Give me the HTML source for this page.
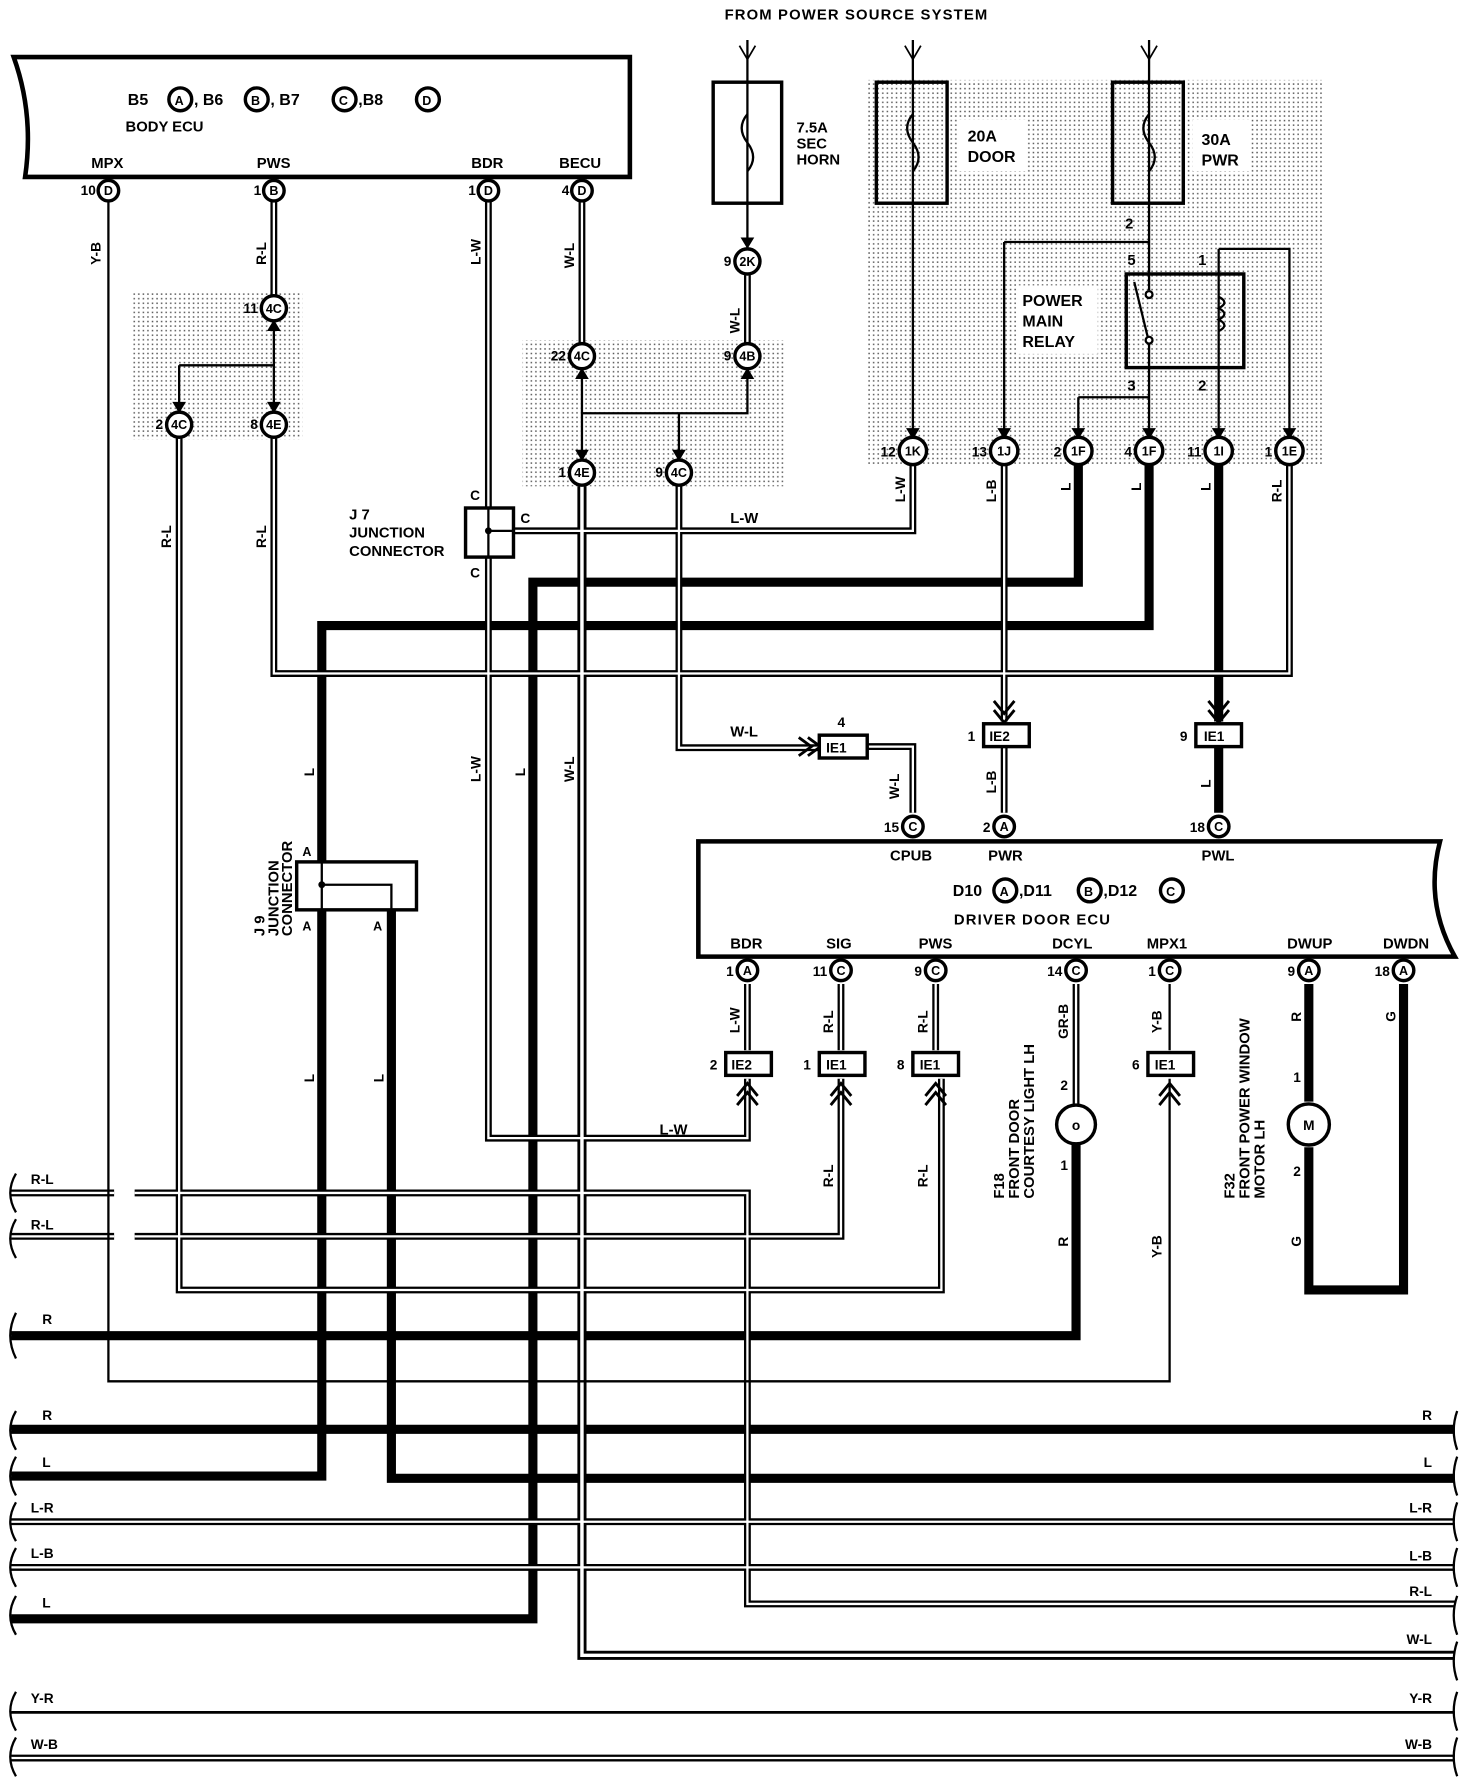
<!DOCTYPE html>
<html><head><meta charset="utf-8"><style>
html,body{margin:0;padding:0;background:#fff}
svg{display:block}
text{font-family:"Liberation Sans",sans-serif;font-weight:bold;fill:#000}
</style></head><body>
<svg width="1472" height="1790" viewBox="0 0 1290 1568" preserveAspectRatio="none" xmlns="http://www.w3.org/2000/svg">
<defs>
<pattern id="dots" width="4" height="4" patternUnits="userSpaceOnUse"><rect x="1" y="1" width="1.3" height="1.3" fill="#555"/></pattern>
</defs>
<rect width="1290" height="1568" fill="#fff"/>
<rect x="760" y="70" width="400" height="338" fill="url(#dots)"/>
<rect x="115" y="255" width="150" height="130" fill="url(#dots)"/>
<rect x="458" y="298" width="230" height="128" fill="url(#dots)"/>
<rect x="840" y="105" width="60" height="45" fill="#fff"/>
<rect x="1045" y="105" width="50" height="45" fill="#fff"/>
<rect x="892" y="250" width="70" height="60" fill="#fff"/>

<text x="635" y="17" font-size="13" letter-spacing="1">FROM POWER SOURCE SYSTEM</text>

<path d="M12,50 H552 V155 H22 Q30,100 12,50 Z" fill="none" stroke="#000" stroke-width="4"/>
<text x="112" y="92" font-size="14">B5</text><circle cx="158" cy="87" r="10" fill="#fff" stroke="#000" stroke-width="3"/><text x="153" y="92" font-size="11">A</text>
<text x="170" y="92" font-size="14">, B6</text><circle cx="225" cy="87" r="10" fill="#fff" stroke="#000" stroke-width="3"/><text x="220" y="92" font-size="11">B</text>
<text x="237" y="92" font-size="14">, B7</text><circle cx="302" cy="87" r="10" fill="#fff" stroke="#000" stroke-width="3"/><text x="297" y="92" font-size="11">C</text>
<text x="314" y="92" font-size="14">,B8</text><circle cx="375" cy="87" r="10" fill="#fff" stroke="#000" stroke-width="3"/><text x="370" y="92" font-size="11">D</text>
<text x="110" y="115" font-size="13">BODY ECU</text>
<text x="80" y="147" font-size="13">MPX</text><text x="225" y="147" font-size="13">PWS</text><text x="413" y="147" font-size="13">BDR</text><text x="490" y="147" font-size="13">BECU</text>

<path d="M612,737 H1262 Q1248,790 1275,838 H612 Z" fill="none" stroke="#000" stroke-width="4"/>
<text x="780" y="754" font-size="13">CPUB</text><text x="866" y="754" font-size="13">PWR</text><text x="1053" y="754" font-size="13">PWL</text>
<text x="835" y="785" font-size="14">D10</text><circle cx="881" cy="780" r="10" fill="#fff" stroke="#000" stroke-width="3"/><text x="876" y="785" font-size="11">A</text>
<text x="893" y="785" font-size="14">,D11</text><circle cx="955" cy="780" r="10" fill="#fff" stroke="#000" stroke-width="3"/><text x="950" y="785" font-size="11">B</text>
<text x="967" y="785" font-size="14">,D12</text><circle cx="1027" cy="780" r="10" fill="#fff" stroke="#000" stroke-width="3"/><text x="1022" y="785" font-size="11">C</text>
<text x="836" y="810" font-size="13" letter-spacing="1">DRIVER DOOR ECU</text>
<text x="640" y="831" font-size="13">BDR</text><text x="724" y="831" font-size="13">SIG</text><text x="805" y="831" font-size="13">PWS</text><text x="922" y="831" font-size="13">DCYL</text><text x="1005" y="831" font-size="13">MPX1</text><text x="1128" y="831" font-size="13">DWUP</text><text x="1212" y="831" font-size="13">DWDN</text>

<g fill="none" stroke="#000" stroke-width="8" stroke-linejoin="miter">
<path d="M945,407 V510 H467 V1418 H10"/>
<path d="M1007,407 V548 H282 V1293 H10"/>
<path d="M1068,407 V632 M1068,655 V712"/>
<path d="M343,797 V1295 H1275"/>
<path d="M10,1252 H1275"/>
<path d="M943,1002 V1170 H10"/>
<path d="M1147,862 V965 M1147,1005 V1130 H1230 V862"/>
</g>

<g fill="none" stroke-linejoin="miter">
<g stroke="#000" stroke-width="6">
<path d="M240,177 V258"/><path d="M157,384 V1130 H825 V945"/><path d="M240,384 V590 H1130 V407"/>
<path d="M428,177 V997 H655 V945"/><path d="M428,465 H800 V407"/><path d="M510,177 V300"/><path d="M655,241 V300"/>
<path d="M510,426 V1450 H1275" stroke-width="8"/><path d="M595,426 V655 H720"/><path d="M760,654 H800 V712"/>
<path d="M880,407 V632 M880,655 V712"/>
<path d="M943,862 V968"/>
<path d="M10,1045 H100 M118,1045 H655 V1405 H1275"/><path d="M10,1083 H100 M118,1083 H737 V945"/>
<path d="M655,862 V920 M737,862 V920 M820,862 V920"/>
<path d="M10,1333 H1275 M10,1373 H1275 M10,1540 H1275"/>
</g>
<g stroke="#fff" stroke-width="2">
<path d="M240,177 V258"/><path d="M157,384 V1130 H825 V945"/><path d="M240,384 V590 H1130 V407"/>
<path d="M428,177 V997 H655 V945"/><path d="M428,465 H800 V407"/><path d="M510,177 V300"/><path d="M655,241 V300"/>
<path d="M510,426 V1450 H1275" stroke-width="3"/><path d="M595,426 V655 H720"/><path d="M760,654 H800 V712"/>
<path d="M880,407 V632 M880,655 V712"/>
<path d="M943,862 V968"/>
<path d="M10,1045 H100 M118,1045 H655 V1405 H1275"/><path d="M10,1083 H100 M118,1083 H737 V945"/>
<path d="M655,862 V920 M737,862 V920 M820,862 V920"/>
<path d="M10,1333 H1275 M10,1373 H1275 M10,1540 H1275"/>
</g>
</g>

<g fill="none" stroke="#000" stroke-width="2">
<path d="M95,177 V1210 H1025 V945"/>
<path d="M240,282 V360 M157,320 H240 M157,320 V360"/>
<path d="M510,324 V402 M510,362 H655 V324 M595,362 V402"/>
<path d="M655,35 V217 M800,35 V383 M1007,35 V254"/>
<path d="M880,212 H1007 M880,212 V383 M1068,218 H1130 V383 M1068,218 V383"/>
<path d="M1007,300 V383 M945,348 H1007 M945,348 V383"/>
<path d="M1025,862 V920"/>
<path d="M10,1500 H1275" stroke-width="2.5"/>
</g>

<g fill="none" stroke="#000" stroke-width="1.5">
<path d="M648,40 L655,52 L662,40 M793,40 L800,52 L807,40 M1000,40 L1007,52 L1014,40"/>
</g>

<g fill="none" stroke="#000" stroke-width="3">
<rect x="625" y="72" width="60" height="106"/><rect x="768" y="72" width="62" height="106"/><rect x="975" y="72" width="62" height="106"/>
<rect x="987" y="240" width="103" height="82"/>
</g>
<g fill="none" stroke="#000" stroke-width="2">
<path d="M655,100 Q645,112 655,125 Q665,138 655,150"/>
<path d="M800,100 Q790,112 800,125 Q810,138 800,150"/>
<path d="M1007,100 Q997,112 1007,125 Q1017,138 1007,150"/>
<path d="M994,247 L1006,296"/>
<circle cx="1007" cy="258" r="3" fill="#fff"/><circle cx="1007" cy="298" r="3" fill="#fff"/>
<path d="M1068,260 q10,5 0,10 q10,5 0,10 q10,5 0,10"/>
</g>
<text x="698" y="116" font-size="13">7.5A</text><text x="698" y="130" font-size="13">SEC</text><text x="698" y="144" font-size="13">HORN</text>
<text x="848" y="124" font-size="14">20A</text><text x="848" y="142" font-size="14">DOOR</text>
<text x="1053" y="127" font-size="14">30A</text><text x="1053" y="145" font-size="14">PWR</text>
<text x="896" y="268" font-size="14">POWER</text><text x="896" y="286" font-size="14">MAIN</text><text x="896" y="304" font-size="14">RELAY</text>
<text x="986" y="200" font-size="13">2</text><text x="988" y="232" font-size="13">5</text><text x="1050" y="232" font-size="13">1</text><text x="988" y="342" font-size="13">3</text><text x="1050" y="342" font-size="13">2</text>

<g fill="#000">
<path d="M234,290 L240,280 L246,290 Z"/><path d="M151,352 L157,362 L163,352 Z"/><path d="M234,352 L240,362 L246,352 Z"/>
<path d="M504,332 L510,322 L516,332 Z"/><path d="M649,332 L655,322 L661,332 Z"/><path d="M504,394 L510,404 L516,394 Z"/><path d="M589,394 L595,404 L601,394 Z"/>
<path d="M649,208 L655,218 L661,208 Z"/>
<path d="M794,375 L800,385 L806,375 Z"/><path d="M874,375 L880,385 L886,375 Z"/><path d="M939,375 L945,385 L951,375 Z"/><path d="M1001,375 L1007,385 L1013,375 Z"/><path d="M1062,375 L1068,385 L1074,375 Z"/><path d="M1124,375 L1130,385 L1136,375 Z"/>
</g>
<g fill="none" stroke="#000" stroke-width="2.5">
<path d="M871,614 L880,625 L889,614 M871,622 L880,633 L889,622"/>
<path d="M1059,614 L1068,625 L1077,614 M1059,622 L1068,633 L1077,622"/>
<path d="M700,646 L711,654 L700,662 M708,646 L719,654 L708,662"/>
<path d="M646,960 L655,949 L664,960 M646,968 L655,957 L664,968"/>
<path d="M728,960 L737,949 L746,960 M728,968 L737,957 L746,968"/>
<path d="M811,960 L820,949 L829,960 M811,968 L820,957 L829,968"/>
<path d="M1016,960 L1025,949 L1034,960 M1016,968 L1025,957 L1034,968"/>
</g>

<rect x="408" y="445" width="42" height="43" fill="#fff" stroke="#000" stroke-width="3"/>
<path d="M428,445 V488 M428,465 H450" stroke="#000" stroke-width="2"/><circle cx="428" cy="465" r="3" fill="#000"/>
<text x="412" y="438" font-size="12">C</text><text x="412" y="506" font-size="12">C</text><text x="456" y="458" font-size="12">C</text>
<text x="306" y="455" font-size="13">J 7</text><text x="306" y="471" font-size="13">JUNCTION</text><text x="306" y="487" font-size="13">CONNECTOR</text>
<rect x="260" y="755" width="105" height="42" fill="#fff" stroke="#000" stroke-width="3"/>
<path d="M282,755 V797 M282,775 H343 V797" stroke="#000" stroke-width="2" fill="none"/><circle cx="282" cy="775" r="3" fill="#000"/>
<text x="265" y="750" font-size="11">A</text><text x="265" y="815" font-size="11">A</text><text x="327" y="815" font-size="11">A</text>
<text transform="translate(232,820) rotate(-90)" font-size="13">J 9</text>
<text transform="translate(244,820) rotate(-90)" font-size="13">JUNCTION</text>
<text transform="translate(256,820) rotate(-90)" font-size="13">CONNECTOR</text>

<g fill="#fff" stroke="#000" stroke-width="3">
<rect x="862" y="634" width="40" height="20"/><rect x="1048" y="634" width="40" height="20"/><rect x="718" y="644" width="42" height="20"/>
<rect x="636" y="922" width="40" height="20"/><rect x="718" y="922" width="40" height="20"/><rect x="800" y="922" width="40" height="20"/><rect x="1006" y="922" width="40" height="20"/>
</g>
<g font-size="12">
<text x="867" y="649">IE2</text><text x="1055" y="649">IE1</text><text x="724" y="659">IE1</text>
<text x="641" y="937">IE2</text><text x="724" y="937">IE1</text><text x="806" y="937">IE1</text><text x="1012" y="937">IE1</text>
<text x="848" y="649">1</text><text x="1034" y="649">9</text><text x="734" y="637">4</text>
<text x="622" y="937">2</text><text x="704" y="937">1</text><text x="786" y="937">8</text><text x="992" y="937">6</text>
</g>

<g fill="#fff" stroke="#000" stroke-width="3">
<circle cx="95" cy="167" r="9"/><circle cx="240" cy="167" r="9"/><circle cx="428" cy="167" r="9"/><circle cx="510" cy="167" r="9"/>
<circle cx="240" cy="270" r="11"/><circle cx="157" cy="372" r="11"/><circle cx="240" cy="372" r="11"/>
<circle cx="510" cy="312" r="11"/><circle cx="655" cy="312" r="11"/><circle cx="655" cy="229" r="11"/><circle cx="510" cy="414" r="11"/><circle cx="595" cy="414" r="11"/>
<circle cx="800" cy="395" r="12"/><circle cx="880" cy="395" r="12"/><circle cx="945" cy="395" r="12"/><circle cx="1007" cy="395" r="12"/><circle cx="1068" cy="395" r="12"/><circle cx="1130" cy="395" r="12"/>
<circle cx="800" cy="724" r="9"/><circle cx="880" cy="724" r="9"/><circle cx="1068" cy="724" r="9"/>
<circle cx="655" cy="850" r="9"/><circle cx="737" cy="850" r="9"/><circle cx="820" cy="850" r="9"/><circle cx="943" cy="850" r="9"/><circle cx="1025" cy="850" r="9"/><circle cx="1147" cy="850" r="9"/><circle cx="1230" cy="850" r="9"/>
<circle cx="943" cy="985" r="17"/><circle cx="1147" cy="985" r="18"/>
</g>
<g font-size="11" text-anchor="middle">
<text x="95" y="171">D</text><text x="240" y="171">B</text><text x="428" y="171">D</text><text x="510" y="171">D</text>
<text x="240" y="274">4C</text><text x="157" y="376">4C</text><text x="240" y="376">4E</text>
<text x="510" y="316">4C</text><text x="655" y="316">4B</text><text x="655" y="233">2K</text><text x="510" y="418">4E</text><text x="595" y="418">4C</text>
<text x="800" y="399">1K</text><text x="880" y="399">1J</text><text x="945" y="399">1F</text><text x="1007" y="399">1F</text><text x="1068" y="399">1I</text><text x="1130" y="399">1E</text>
<text x="800" y="728">C</text><text x="880" y="728">A</text><text x="1068" y="728">C</text>
<text x="655" y="854">A</text><text x="737" y="854">C</text><text x="820" y="854">C</text><text x="943" y="854">C</text><text x="1025" y="854">C</text><text x="1147" y="854">A</text><text x="1230" y="854">A</text>
<text x="1147" y="990" font-size="12">M</text><text x="943" y="990" font-size="12">o</text>
</g>
<g font-size="12" text-anchor="end">
<text x="84" y="171">10</text><text x="229" y="171">1</text><text x="417" y="171">1</text><text x="499" y="171">4</text>
<text x="226" y="274">11</text><text x="143" y="376">2</text><text x="226" y="376">8</text>
<text x="496" y="316">22</text><text x="641" y="316">9</text><text x="641" y="233">9</text><text x="496" y="418">1</text><text x="581" y="418">9</text>
<text x="785" y="400">12</text><text x="865" y="400">13</text><text x="930" y="400">2</text><text x="992" y="400">4</text><text x="1053" y="400">11</text><text x="1115" y="400">1</text>
<text x="788" y="729">15</text><text x="868" y="729">2</text><text x="1056" y="729">18</text>
<text x="643" y="855">1</text><text x="725" y="855">11</text><text x="808" y="855">9</text><text x="931" y="855">14</text><text x="1013" y="855">1</text><text x="1135" y="855">9</text><text x="1218" y="855">18</text>
<text x="936" y="955">2</text><text x="936" y="1025">1</text><text x="1140" y="948">1</text><text x="1140" y="1030">2</text>
</g>

<g font-size="12">
<text transform="translate(88,232) rotate(-90)">Y-B</text>
<text transform="translate(233,232) rotate(-90)">R-L</text>
<text transform="translate(421,232) rotate(-90)">L-W</text>
<text transform="translate(503,235) rotate(-90)">W-L</text>
<text transform="translate(648,292) rotate(-90)">W-L</text>
<text transform="translate(150,480) rotate(-90)">R-L</text>
<text transform="translate(233,480) rotate(-90)">R-L</text>
<text transform="translate(793,440) rotate(-90)">L-W</text>
<text transform="translate(873,440) rotate(-90)">L-B</text>
<text transform="translate(938,430) rotate(-90)">L</text>
<text transform="translate(1000,430) rotate(-90)">L</text>
<text transform="translate(1061,430) rotate(-90)">L</text>
<text transform="translate(1123,440) rotate(-90)">R-L</text>
<text transform="translate(421,685) rotate(-90)">L-W</text>
<text transform="translate(460,680) rotate(-90)">L</text>
<text transform="translate(503,685) rotate(-90)">W-L</text>
<text transform="translate(275,680) rotate(-90)">L</text>
<text transform="translate(275,948) rotate(-90)">L</text>
<text transform="translate(336,948) rotate(-90)">L</text>
<text transform="translate(788,700) rotate(-90)">W-L</text>
<text transform="translate(873,695) rotate(-90)">L-B</text>
<text transform="translate(1061,690) rotate(-90)">L</text>
<text transform="translate(648,905) rotate(-90)">L-W</text>
<text transform="translate(730,905) rotate(-90)">R-L</text>
<text transform="translate(813,905) rotate(-90)">R-L</text>
<text transform="translate(936,910) rotate(-90)">GR-B</text>
<text transform="translate(1018,905) rotate(-90)">Y-B</text>
<text transform="translate(1140,895) rotate(-90)">R</text>
<text transform="translate(1223,895) rotate(-90)">G</text>
<text transform="translate(730,1040) rotate(-90)">R-L</text>
<text transform="translate(813,1040) rotate(-90)">R-L</text>
<text transform="translate(936,1092) rotate(-90)">R</text>
<text transform="translate(1018,1102) rotate(-90)">Y-B</text>
<text transform="translate(1140,1092) rotate(-90)">G</text>
</g>
<g font-size="13">
<text x="640" y="458">L-W</text><text x="640" y="645">W-L</text><text x="578" y="994">L-W</text>
<text transform="translate(880,1050) rotate(-90)">F18</text>
<text transform="translate(893,1050) rotate(-90)">FRONT DOOR</text>
<text transform="translate(906,1050) rotate(-90)">COURTESY LIGHT LH</text>
<text transform="translate(1082,1050) rotate(-90)">F32</text>
<text transform="translate(1095,1050) rotate(-90)">FRONT POWER WINDOW</text>
<text transform="translate(1108,1050) rotate(-90)">MOTOR LH</text>
</g>

<g font-size="12">
<text x="27" y="1037">R-L</text><text x="27" y="1077">R-L</text><text x="37" y="1160">R</text>
<text x="37" y="1244">R</text><text x="37" y="1285">L</text><text x="27" y="1325">L-R</text><text x="27" y="1365">L-B</text><text x="37" y="1408">L</text>
<text x="27" y="1492">Y-R</text><text x="27" y="1532">W-B</text>
</g>
<g font-size="12" text-anchor="end">
<text x="1255" y="1244">R</text><text x="1255" y="1285">L</text><text x="1255" y="1325">L-R</text><text x="1255" y="1367">L-B</text><text x="1255" y="1398">R-L</text><text x="1255" y="1440">W-L</text><text x="1255" y="1492">Y-R</text><text x="1255" y="1532">W-B</text>
</g>
<g fill="none" stroke="#000" stroke-width="2">
<path d="M14,1028 q-10,17 0,34 M14,1068 q-10,17 0,34 M14,1150 q-10,20 0,40 M14,1236 q-10,17 0,34 M14,1276 q-10,17 0,34 M14,1316 q-10,17 0,34 M14,1356 q-10,17 0,34 M14,1398 q-10,17 0,34 M14,1482 q-10,17 0,34 M14,1522 q-10,17 0,34"/>
<path d="M1277,1236 q-6,17 0,34 M1277,1276 q-6,17 0,34 M1277,1316 q-6,17 0,34 M1277,1356 q-6,17 0,34 M1277,1398 q-6,17 0,34 M1277,1438 q-6,17 0,34 M1277,1482 q-6,17 0,34 M1277,1522 q-6,17 0,34"/>
</g>
</svg>
</body></html>
